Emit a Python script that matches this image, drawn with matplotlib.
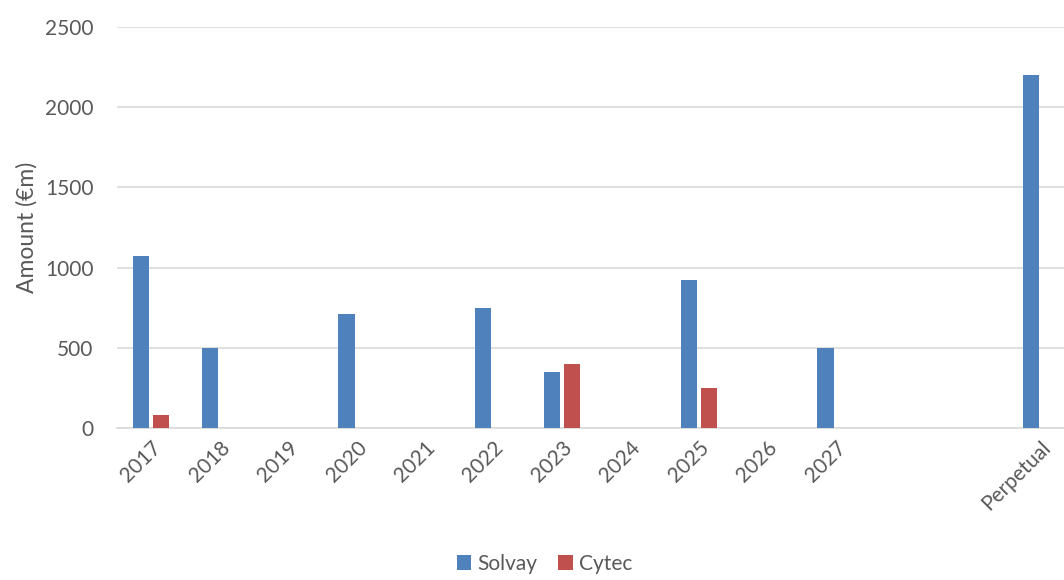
import numpy as np
import matplotlib.pyplot as plt

plt.rcParams['font.family'] = ['Lato', 'DejaVu Sans']

# data
categories = ['2017', '2018', '2019', '2020', '2021', '2022', '2023', '2024',
              '2025', '2026', '2027', '', '', 'Perpetual']
solvay = [1075, 500, 0, 710, 0, 750, 350, 0, 925, 0, 500, 0, 0, 2200]
cytec = [80, 0, 0, 0, 0, 0, 400, 0, 250, 0, 0, 0, 0, 0]

blue = '#4F81BD'
red = '#C0504D'
grid_col = '#D9D9D9'
text_col = '#595959'

fig = plt.figure(figsize=(10.64, 5.8), dpi=100)
ax = fig.add_axes([117 / 1064, 152 / 580, 958 / 1064, 401 / 580])

x = np.arange(len(categories))
w = 0.235
off = 0.146
ax.bar(x - off, solvay, width=w, color=blue, label='Solvay', zorder=3)
ax.bar(x + off, cytec, width=w, color=red, label='Cytec', zorder=3)

ax.set_xlim(-0.5, len(categories) - 0.5)
ax.set_ylim(0, 2500)
ax.set_yticks(range(0, 2501, 500))
ax.grid(axis='y', color=grid_col, linewidth=1.2, zorder=0)
ax.set_axisbelow(True)

for s in ['left', 'right', 'top']:
    ax.spines[s].set_visible(False)
ax.spines['bottom'].set_color(grid_col)
ax.spines['bottom'].set_linewidth(1.2)

ax.set_xticks(x)
ax.set_xticklabels(categories, rotation=45, ha='right', va='top',
                   rotation_mode='anchor')
ax.tick_params(axis='x', length=0, pad=7, labelsize=15, labelcolor=text_col)
ax.tick_params(axis='y', length=0, pad=17, labelsize=15, labelcolor=text_col)

ax.set_ylabel('Amount (€m)', fontsize=16.5, color=text_col, labelpad=5)

fig.legend(loc='lower center', bbox_to_anchor=(0.512, -0.022), ncol=2,
           frameon=False, fontsize=15, handlelength=0.7, handleheight=0.7,
           handletextpad=0.3, columnspacing=1.0, labelcolor=text_col)

fig.savefig('out.png', dpi=100)
